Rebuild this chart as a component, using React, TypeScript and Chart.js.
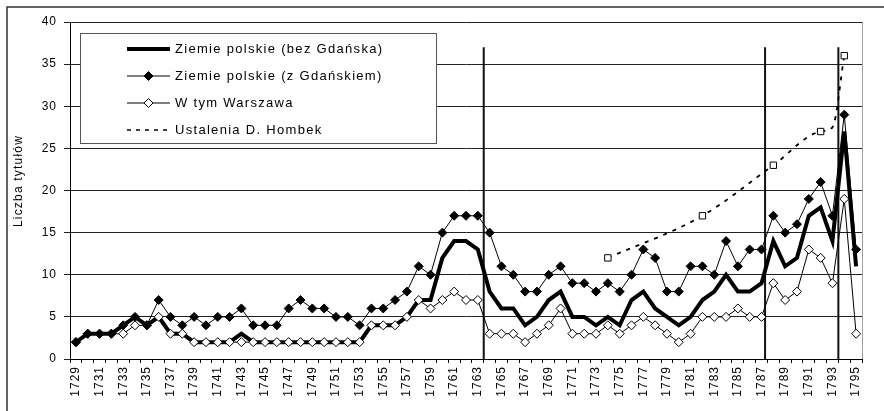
import React, { useEffect, useRef } from 'react';
import { Chart, registerables } from 'chart.js';

Chart.register(...registerables);

const years: string[] = Array.from({ length: 67 }, (_, i) => String(1729 + i));

const bezGdanska = [
  2, 3, 3, 3, 4, 5, 4, 5, 3, 3,
  2, 2, 2, 2, 3, 2, 2, 2, 2, 2,
  2, 2, 2, 2, 2, 4, 4, 4, 5, 7,
  7, 12, 14, 14, 13, 8, 6, 6, 4, 5,
  7, 8, 5, 5, 4, 5, 4, 7, 8, 6,
  5, 4, 5, 7, 8, 10, 8, 8, 9, 14,
  11, 12, 17, 18, 14, 27, 11,
];

const zGdanskiem = [
  2, 3, 3, 3, 4, 5, 4, 7, 5, 4,
  5, 4, 5, 5, 6, 4, 4, 4, 6, 7,
  6, 6, 5, 5, 4, 6, 6, 7, 8, 11,
  10, 15, 17, 17, 17, 15, 11, 10, 8, 8,
  10, 11, 9, 9, 8, 9, 8, 10, 13, 12,
  8, 8, 11, 11, 10, 14, 11, 13, 13, 17,
  15, 16, 19, 21, 17, 29, 13,
];

const warszawa = [
  2, 3, 3, 3, 3, 4, 4, 5, 3, 3,
  2, 2, 2, 2, 2, 2, 2, 2, 2, 2,
  2, 2, 2, 2, 2, 4, 4, 4, 5, 7,
  6, 7, 8, 7, 7, 3, 3, 3, 2, 3,
  4, 6, 3, 3, 3, 4, 3, 4, 5, 4,
  3, 2, 3, 5, 5, 5, 6, 5, 5, 9,
  7, 8, 13, 12, 9, 19, 3,
];

const hombekYears = ['1774', '1782', '1788', '1792', '1793', '1794'];
const hombekValues = [12, 17, 23, 27, 27.5, 36];
const hombekMarker = [true, true, true, true, false, true];

const dividerYears = [1763.5, 1787.3, 1793.5];
const dividerTop = 37;

const seriesLabels = [
  'Ziemie polskie (bez Gdańska)',
  'Ziemie polskie (z Gdańskiem)',
  'W tym Warszawa',
  'Ustalenia D. Hombek',
];

const yTicks = [0, 5, 10, 15, 20, 25, 30, 35, 40];
const yTitle = 'Liczba tytułów';

const FONT = '"Liberation Sans", Arial, sans-serif';

const hombekData: (number | null)[] = years.map((y) => {
  const k = hombekYears.indexOf(y);
  return k >= 0 ? hombekValues[k] : null;
});
const hombekRadius: number[] = years.map((y) => {
  const k = hombekYears.indexOf(y);
  return k >= 0 && hombekMarker[k] ? 4.5 : 0;
});

const spacingPlugin = {
  id: 'spacing',
  beforeLayout(chart: any) {
    chart.ctx.letterSpacing = '1px';
  },
  beforeDraw(chart: any) {
    chart.ctx.letterSpacing = '1px';
  },
};

const dividersPlugin = {
  id: 'dividers',
  beforeDatasetsDraw(chart: any) {
    const { ctx, scales } = chart;
    const x = scales.x;
    const y = scales.y;
    ctx.save();
    ctx.strokeStyle = '#111';
    ctx.lineWidth = 2;
    dividerYears.forEach((yr) => {
      const px = x.getPixelForValue(yr - 1729);
      ctx.beginPath();
      ctx.moveTo(px, y.getPixelForValue(dividerTop));
      ctx.lineTo(px, y.getPixelForValue(0));
      ctx.stroke();
    });
    ctx.restore();
  },
};

const decorPlugin = {
  id: 'decor',
  afterDraw(chart: any) {
    const { ctx, chartArea } = chart;
    ctx.save();
    // plot right border
    ctx.strokeStyle = '#a0a0a0';
    ctx.lineWidth = 1;
    ctx.beginPath();
    ctx.moveTo(chartArea.right + 0.5, chartArea.top);
    ctx.lineTo(chartArea.right + 0.5, chartArea.bottom);
    ctx.stroke();

    // outer frame
    ctx.strokeStyle = '#333';
    ctx.lineWidth = 1.5;
    ctx.strokeRect(7, 7, 900, 440);

    // y title
    ctx.save();
    ctx.translate(19, 181);
    ctx.rotate(-Math.PI / 2);
    ctx.font = `12px ${FONT}`;
    ctx.letterSpacing = '1.2px';
    ctx.fillStyle = '#000';
    ctx.textAlign = 'center';
    ctx.textBaseline = 'middle';
    ctx.fillText(yTitle, 0, 0);
    ctx.restore();

    // legend
    const lx = 80, ly = 33, lw = 356, lh = 110;
    ctx.fillStyle = '#fff';
    ctx.fillRect(lx, ly, lw, lh);
    ctx.strokeStyle = '#555';
    ctx.lineWidth = 1;
    ctx.strokeRect(lx + 0.5, ly + 0.5, lw, lh);
    const rows = [49, 76, 103, 130];
    const sx0 = 127, sx1 = 170, mx = 148.5;
    rows.forEach((ry, i) => {
      ctx.save();
      ctx.strokeStyle = '#000';
      if (i === 0) {
        ctx.lineWidth = 4;
      } else if (i === 3) {
        ctx.lineWidth = 1.5;
        ctx.setLineDash([4, 5]);
      } else {
        ctx.lineWidth = 1;
      }
      ctx.beginPath();
      ctx.moveTo(sx0, ry);
      ctx.lineTo(sx1, ry);
      ctx.stroke();
      ctx.setLineDash([]);
      if (i === 1 || i === 2) {
        const r = 4.5;
        ctx.beginPath();
        ctx.moveTo(mx - r, ry);
        ctx.lineTo(mx, ry - r);
        ctx.lineTo(mx + r, ry);
        ctx.lineTo(mx, ry + r);
        ctx.closePath();
        ctx.fillStyle = i === 1 ? '#000' : '#fff';
        ctx.fill();
        ctx.lineWidth = 1;
        ctx.stroke();
      }
      ctx.font = `13px ${FONT}`;
      ctx.letterSpacing = '1.3px';
      ctx.fillStyle = '#000';
      ctx.textAlign = 'left';
      ctx.textBaseline = 'middle';
      ctx.fillText(seriesLabels[i], 175, ry + 0.5);
      ctx.restore();
    });
    ctx.restore();
  },
};

export default function App() {
  const ref = useRef<HTMLCanvasElement | null>(null);
  useEffect(() => {
    if (!ref.current) return;
    const chart = new Chart(ref.current, {
      type: 'line',
      data: {
        labels: years,
        datasets: [
          {
            label: seriesLabels[0],
            data: bezGdanska,
            borderColor: '#000',
            borderWidth: 4,
            pointRadius: 0,
            tension: 0,
            order: 3,
          },
          {
            label: seriesLabels[1],
            data: zGdanskiem,
            borderColor: '#000',
            borderWidth: 1,
            pointStyle: 'rectRot',
            pointRadius: 4.5,
            pointBackgroundColor: '#000',
            pointBorderColor: '#000',
            pointBorderWidth: 1,
            tension: 0,
            order: 1,
          },
          {
            label: seriesLabels[2],
            data: warszawa,
            borderColor: '#000',
            borderWidth: 1,
            pointStyle: 'rectRot',
            pointRadius: 4.5,
            pointBackgroundColor: '#fff',
            pointBorderColor: '#000',
            pointBorderWidth: 1,
            tension: 0,
            order: 2,
          },
          {
            label: seriesLabels[3],
            data: hombekData,
            borderColor: '#000',
            borderWidth: 1.8,
            borderDash: [4, 6],
            pointStyle: 'rect',
            pointRadius: hombekRadius,
            pointBackgroundColor: '#fff',
            pointBorderColor: '#000',
            pointBorderWidth: 1,
            spanGaps: true,
            cubicInterpolationMode: 'monotone',
            order: 0,
          },
        ],
      },
      options: {
        animation: false,
        responsive: false,
        devicePixelRatio: 1,
        layout: { padding: { left: 0, top: 22, right: 22, bottom: 0 } },
        plugins: {
          legend: { display: false },
          tooltip: { enabled: false },
          title: { display: false },
        },
        scales: {
          x: {
            type: 'category',
            offset: true,
            afterFit: (s: any) => {
              s.height = 52;
            },
            grid: {
              display: true,
              offset: true,
              drawOnChartArea: false,
              drawTicks: true,
              tickLength: 4,
              color: '#000',
            },
            border: { display: true, color: '#000', width: 1 },
            ticks: {
              autoSkip: false,
              maxRotation: 90,
              minRotation: 90,
              padding: 3,
              color: '#000',
              font: { family: FONT, size: 12 },
              callback: (_v: any, i: number) => (i % 2 === 0 ? years[i] : ''),
            },
          },
          y: {
            min: 0,
            max: 40,
            afterFit: (s: any) => {
              s.width = 70;
            },
            afterBuildTicks: (s: any) => {
              s.ticks = yTicks.map((v) => ({ value: v }));
            },
            grid: {
              color: '#222',
              lineWidth: 1,
              drawTicks: true,
              tickLength: 6,
            },
            border: { display: true, color: '#000', width: 1 },
            ticks: {
              padding: 7,
              color: '#000',
              font: { family: FONT, size: 12 },
            },
          },
        },
      },
      plugins: [spacingPlugin, dividersPlugin, decorPlugin],
    });
    return () => chart.destroy();
  }, []);
  return (
    <div style={{ position: 'absolute', left: 0, top: 0, width: 884, height: 411, background: '#fff' }}>
      <canvas ref={ref} width={884} height={411} style={{ display: 'block', width: 884, height: 411 }} />
    </div>
  );
}
